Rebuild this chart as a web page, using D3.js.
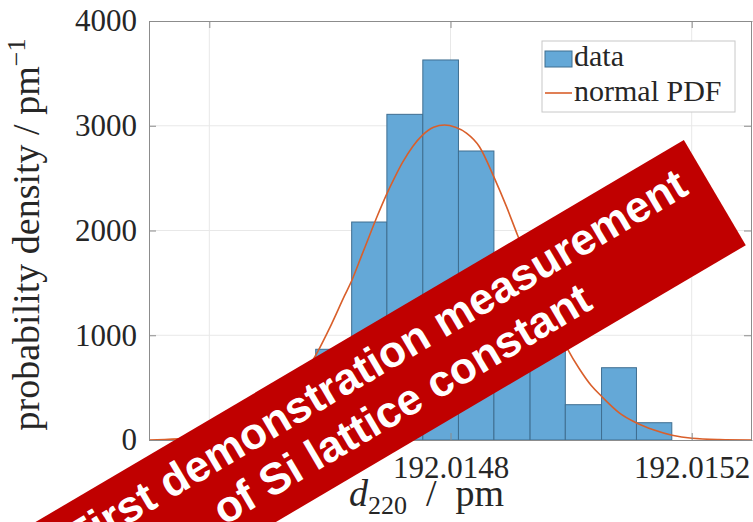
<!DOCTYPE html>
<meta charset="utf-8">
<title>d220 histogram</title>
<style>
  body { margin: 0; background: #fff; }
  svg { display: block; }
  .tick text { font-family: "Liberation Serif", "Times New Roman", serif; font-size: 31px; fill: #262626; }
  .lbl { font-family: "Liberation Serif", "Times New Roman", serif; font-size: 38px; fill: #262626; white-space: pre; }
</style>
<body>
<script src="https://cdnjs.cloudflare.com/ajax/libs/d3/7.8.5/d3.min.js"></script>
<script>

// histogram bin edges (pm) and heights (probability density, pm^-1)
let binEdges = [192.0145177, 192.0145765, 192.0146361, 192.0146945, 192.0147541, 192.0148132,
                192.0148720, 192.0149320, 192.0149904, 192.0150505, 192.0151084, 192.0151670];
let binHeights = [170, 866, 2081, 3109, 3628, 2759, 1560, 1210, 337, 690, 165];

// normal PDF curve
let pdfX = [192.0143000, 192.0143844, 192.0144341, 192.0144838, 192.0145169, 192.0145500,
            192.0145715, 192.0145798, 192.0145997, 192.0146245, 192.0146361, 192.0146526,
            192.0146659, 192.0146791, 192.0146940, 192.0147073, 192.0147205, 192.0147371,
            192.0147536, 192.0147719, 192.0147901, 192.0148083, 192.0148265, 192.0148480,
            192.0148728, 192.0148927, 192.0149109, 192.0149308, 192.0149556, 192.0149755,
            192.0149921, 192.0150136, 192.0150334, 192.0150500, 192.0150798, 192.0151079,
            192.0151377, 192.0151675, 192.0152007, 192.0152454, 192.0153000];
let pdfY = [0, 25, 76, 199, 347, 571,
            760, 843, 1070, 1380, 1520, 1760,
            1955, 2145, 2345, 2505, 2650, 2800,
            2910, 2985, 3007, 2985, 2930, 2800,
            2500, 2230, 1960, 1680, 1330, 1080,
            890, 680, 520, 420, 260, 165,
            95, 45, 16, 4, 0];

let xTicks = [192.0144, 192.0148, 192.0152];
let xTickLabels = ["192.0144", "192.0148", "192.0152"];
let yTicks = [0, 1000, 2000, 3000, 4000];

let W = 753, H = 522;
let margin = { top: 21, right: 1, bottom: 82, left: 149 };

let x = d3.scaleLinear().domain([192.0143, 192.0153]).range([margin.left, W - margin.right]);
let y = d3.scaleLinear().domain([0, 4000]).range([H - margin.bottom, margin.top]);

let svg = d3.select('body').append('svg')
    .attr('width', W)
    .attr('height', H);

svg.append('clipPath').attr('id', 'plotclip')
  .append('rect')
    .attr('x', x.range()[0]).attr('y', y.range()[1])
    .attr('width', x.range()[1] - x.range()[0])
    .attr('height', y.range()[0] - y.range()[1]);

// grid
let grid = svg.append('g').attr('stroke', '#e8e8e8').attr('stroke-width', 1);
grid.selectAll('.gx').data(xTicks).enter().append('line')
    .attr('x1', d => x(d)).attr('x2', d => x(d))
    .attr('y1', y.range()[0]).attr('y2', y.range()[1]);
grid.selectAll('.gy').data(yTicks.slice(1, -1)).enter().append('line')
    .attr('x1', x.range()[0]).attr('x2', x.range()[1])
    .attr('y1', d => y(d)).attr('y2', d => y(d));

let plot = svg.append('g').attr('clip-path', 'url(#plotclip)');

// bars
plot.selectAll('.bar')
    .data(binHeights)
    .enter().append('rect')
        .attr('class', 'bar')
        .attr('x', (d, i) => x(binEdges[i]))
        .attr('width', (d, i) => x(binEdges[i + 1]) - x(binEdges[i]))
        .attr('y', d => y(d))
        .attr('height', d => y(0) - y(d))
        .attr('fill', '#64a8d7')
        .attr('stroke', '#3f6e90')
        .attr('stroke-width', 1);

// pdf line
let line = d3.line()
    .x(d => x(d[0]))
    .y(d => y(d[1]))
    .curve(d3.curveMonotoneX);

plot.append('path')
    .datum(pdfX.map((v, i) => [v, pdfY[i]]))
    .attr('fill', 'none')
    .attr('stroke', '#d95f2b')
    .attr('stroke-width', 1.6)
    .attr('d', line);

// axes (box with inward ticks)
let axisColor = '#8c8c8c';
let xAxis = svg.append('g')
    .attr('transform', `translate(0,${y(0)})`)
    .call(d3.axisBottom(x).tickValues(xTicks).tickFormat((d, i) => xTickLabels[i]).tickSizeInner(-7).tickSizeOuter(0).tickPadding(16));
let yAxis = svg.append('g')
    .attr('transform', `translate(${x.range()[0]},0)`)
    .call(d3.axisLeft(y).tickValues(yTicks).tickFormat(d3.format('d')).tickSizeInner(-7).tickSizeOuter(0).tickPadding(12));
let xTop = svg.append('g')
    .attr('transform', `translate(0,${y.range()[1]})`)
    .call(d3.axisTop(x).tickValues(xTicks).tickFormat('').tickSizeInner(-7).tickSizeOuter(0));
let yRight = svg.append('g')
    .attr('transform', `translate(${x.range()[1] - 1},0)`)
    .call(d3.axisRight(y).tickValues(yTicks).tickFormat('').tickSizeInner(-7).tickSizeOuter(0));

[xAxis, yAxis, xTop, yRight].forEach(g => {
    g.select('.domain').attr('stroke', axisColor);
    g.selectAll('.tick line').attr('stroke', axisColor);
    g.attr('font-family', null).attr('font-size', null);
});
xAxis.selectAll('.tick text').attr('dy', '0.71em');

// axis labels
let ylab = svg.append('text')
    .attr('class', 'lbl')
    .attr('transform', `translate(39,${(y.range()[0] + y.range()[1]) / 2 + 4})rotate(-90)`)
    .attr('text-anchor', 'middle');
ylab.append('tspan').text('probability density / pm');
ylab.append('tspan').attr('dy', '-0.55em').attr('font-size', '26px').text('\u22121');

let xlab = svg.append('text')
    .attr('class', 'lbl')
    .attr('x', 349)
    .attr('y', 506)
    .attr('text-anchor', 'start');
xlab.append('tspan').attr('font-style', 'italic').text('d');
xlab.append('tspan').attr('dy', '0.3em').attr('font-size', '26px').text('220');
xlab.append('tspan').attr('dy', '-0.2em').text('  /  pm');

// legend
let lg = svg.append('g').attr('transform', 'translate(542,41)');
lg.append('rect')
    .attr('width', 193).attr('height', 71)
    .attr('fill', '#fff').attr('stroke', '#c8c8c8');
lg.append('rect')
    .attr('x', 3).attr('y', 10).attr('width', 27).attr('height', 16)
    .attr('fill', '#64a8d7').attr('stroke', '#3f6e90');
lg.append('text').attr('class', 'lbl').style('font-size', '30px')
    .attr('x', 32).attr('y', 25).text('data');
lg.append('line')
    .attr('x1', 3).attr('x2', 30).attr('y1', 52).attr('y2', 52)
    .attr('stroke', '#d95f2b').attr('stroke-width', 1.6);
lg.append('text').attr('class', 'lbl').style('font-size', '30px')
    .attr('x', 32).attr('y', 60).text('normal PDF');

// banner
let banner = svg.append('g')
    .attr('transform', 'translate(390,384)rotate(-30.5)');
banner.append('rect')
    .attr('x', -800).attr('y', -61)
    .attr('width', 800 + 377).attr('height', 122)
    .attr('fill', '#c00000');
let bannerLines = ['First demonstration measurement', 'of Si lattice constant'];
banner.selectAll('.bl')
    .data(bannerLines)
    .enter().append('text')
        .attr('x', 0)
        .attr('y', (d, i) => -12 + i * 50)
        .attr('text-anchor', 'middle')
        .attr('fill', '#fff')
        .style('font-family', '"Liberation Sans", Arial, sans-serif')
        .style('font-weight', 'bold')
        .style('font-size', '44px')
        .text(d => d);

</script>
</body>
